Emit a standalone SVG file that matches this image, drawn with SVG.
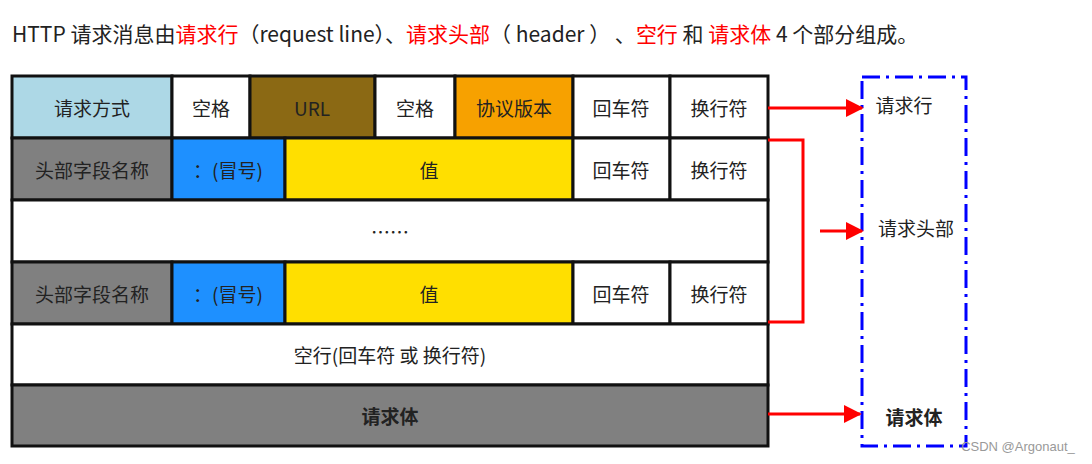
<svg xmlns="http://www.w3.org/2000/svg" width="1092" height="464" viewBox="0 0 1092 464">
<style>
text{font-family:"Noto Sans CJK SC","Liberation Sans",sans-serif;font-size:19px;text-anchor:middle;dominant-baseline:central;fill:#222}
.c{stroke:#111;stroke-width:3}
.r{stroke:#f00;stroke-width:3;fill:none}
</style>
<defs><marker id="a" markerWidth="8" markerHeight="8" refX="7" refY="4" orient="auto" markerUnits="userSpaceOnUse" viewBox="0 0 8 8"><path d="M0,0L8,4L0,8z" fill="#f00"/></marker>
<marker id="b" viewBox="0 0 10 10" refX="9" refY="5" markerWidth="18" markerHeight="18" orient="auto" markerUnits="userSpaceOnUse"><path d="M0,0L10,5L0,10z" fill="#f00"/></marker></defs>
<rect width="1092" height="464" fill="#fff"/>
<text x="12" y="33" style="text-anchor:start;font-size:21px">HTTP 请求消息由<tspan fill="#f00">请求行</tspan>（request line）、<tspan fill="#f00">请求头部</tspan>（ header ） 、<tspan fill="#f00">空行</tspan> 和 <tspan fill="#f00">请求体</tspan> 4 个部分组成。</text>
<g id="row1">
<rect class="c" x="12" y="76" width="160" height="62" fill="#ADD8E6"/><text x="92" y="107">请求方式</text>
<rect class="c" x="172" y="76" width="78" height="62" fill="#fff"/><text x="211" y="107">空格</text>
<rect class="c" x="250" y="76" width="125" height="62" fill="#8B6914"/><text x="312" y="107">URL</text>
<rect class="c" x="375" y="76" width="80" height="62" fill="#fff"/><text x="415" y="107">空格</text>
<rect class="c" x="455" y="76" width="118" height="62" fill="#F7A100"/><text x="514" y="107">协议版本</text>
<rect class="c" x="573" y="76" width="97" height="62" fill="#fff"/><text x="621" y="107">回车符</text>
<rect class="c" x="670" y="76" width="98" height="62" fill="#fff"/><text x="719" y="107">换行符</text>
</g>
<g id="row2">
<rect class="c" x="12" y="138" width="160" height="62" fill="#808080"/><text x="92" y="169">头部字段名称</text>
<rect class="c" x="172" y="138" width="113" height="62" fill="#1E90FF"/><text x="228" y="169">：(冒号)</text>
<rect class="c" x="285" y="138" width="288" height="62" fill="#FFDF00"/><text x="429" y="169">值</text>
<rect class="c" x="573" y="138" width="97" height="62" fill="#fff"/><text x="621" y="169">回车符</text>
<rect class="c" x="670" y="138" width="98" height="62" fill="#fff"/><text x="719" y="169">换行符</text>
</g>
<g id="row3"><rect class="c" x="12" y="200" width="756" height="62" fill="#fff"/><text x="390" y="231">……</text></g>
<g id="row4">
<rect class="c" x="12" y="262" width="160" height="62" fill="#808080"/><text x="92" y="293">头部字段名称</text>
<rect class="c" x="172" y="262" width="113" height="62" fill="#1E90FF"/><text x="228" y="293">：(冒号)</text>
<rect class="c" x="285" y="262" width="288" height="62" fill="#FFDF00"/><text x="429" y="293">值</text>
<rect class="c" x="573" y="262" width="97" height="62" fill="#fff"/><text x="621" y="293">回车符</text>
<rect class="c" x="670" y="262" width="98" height="62" fill="#fff"/><text x="719" y="293">换行符</text>
</g>
<g id="row5"><rect class="c" x="12" y="324" width="756" height="61" fill="#fff"/><text x="390" y="354">空行(回车符 或 换行符)</text></g>
<g id="row6"><rect class="c" x="12" y="385" width="756" height="61" fill="#808080"/><text x="390" y="415" style="font-weight:bold">请求体</text></g>
<g id="parts">
<rect x="862" y="77" width="104" height="369" fill="none" stroke="#00f" stroke-width="3" stroke-dasharray="18,6,3,6"/>
<text x="904" y="104">请求行</text>
<text x="916" y="227">请求头部</text>
<text x="914" y="416" style="font-weight:bold">请求体</text>
</g>
<g id="connectors">
<path class="r" d="M768,108H862" marker-end="url(#b)"/>
<path class="r" d="M768,140H803V322H768"/>
<path class="r" d="M820,231H862" marker-end="url(#b)"/>
<path class="r" d="M768,414H860" marker-end="url(#b)"/>
</g>
<text x="1018" y="446" style="font-size:13px;fill:#999;font-family:'Liberation Sans',sans-serif">CSDN @Argonaut_</text>
</svg>
